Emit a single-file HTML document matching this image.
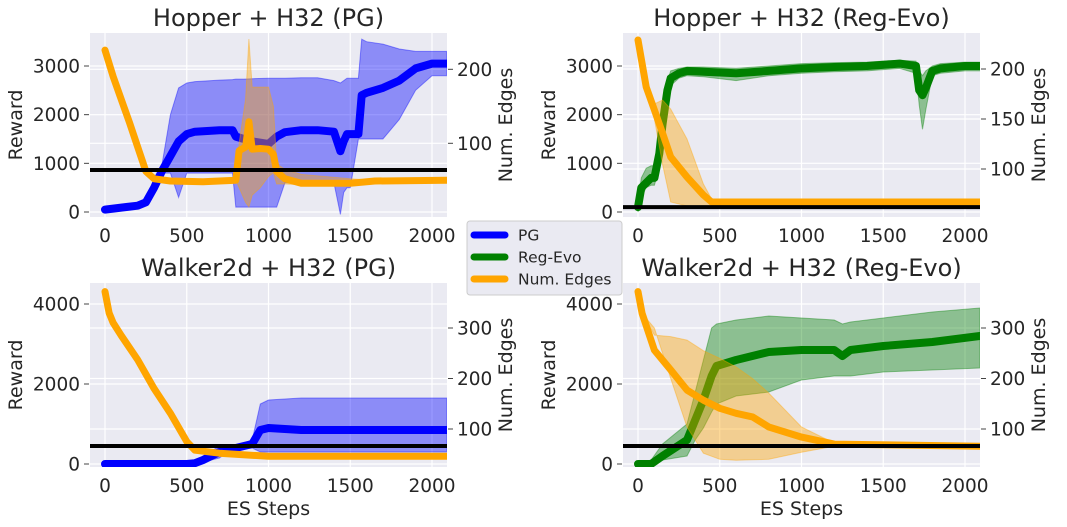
<!DOCTYPE html>
<html><head><meta charset="utf-8"><style>
body{margin:0;background:#fff;}
svg{display:block;font-family:"DejaVu Sans","Liberation Sans",sans-serif;}
</style></head><body>
<svg id="chart" width="1067" height="527" viewBox="0 0 1067 527" xmlns="http://www.w3.org/2000/svg"></svg>
<script>
// ---------- data ----------
const xTicks = [0, 500, 1000, 1500, 2000];
const panelTitles = ["Hopper + H32 (PG)", "Hopper + H32 (Reg-Evo)", "Walker2d + H32 (PG)", "Walker2d + H32 (Reg-Evo)"];
const rewardTicksHopper = [0, 1000, 2000, 3000];
const rewardTicksWalker = [0, 2000, 4000];
const edgeTicksP1 = [100, 200];
const edgeTicksP2 = [100, 150, 200];
const edgeTicksWalker = [100, 200, 300];
const baselines = [862, 100, 450, 450];

// Panel 1: Hopper PG
const p1RewX = [0,100,200,250,300,350,400,450,500,550,600,700,780,800,850,900,1000,1050,1100,1200,1300,1400,1440,1460,1480,1500,1550,1570,1600,1700,1800,1900,2000,2090];
const p1RewMean = [50,90,130,200,500,850,1150,1450,1600,1650,1660,1680,1680,1550,1500,1450,1400,1550,1640,1680,1680,1650,1250,1450,1600,1600,1600,2400,2450,2550,2700,2950,3050,3050];
const p1RewUp = [50,90,130,200,700,1000,2000,2550,2650,2680,2690,2710,2720,2730,2730,2740,2750,2750,2750,2760,2760,2700,2650,2700,2750,2750,2750,3550,3500,3450,3350,3300,3300,3300];
const p1RewLo = [50,90,130,200,400,800,800,300,800,800,800,800,800,100,100,100,100,100,600,600,600,600,-50,400,500,500,1500,1500,1500,1500,1900,2500,2800,2800];
const p1EdgX = [0,50,100,150,200,250,300,400,600,800,820,860,880,900,950,1000,1030,1050,1100,1200,1500,1650,2090];
const p1EdgMean = [226,190,159,128,95,62,52,49,48,50,90,95,129,92,93,92,85,62,52,46,46,49,50];
const p1EdgUp = [226,190,159,128,95,62,52,49,48,50,100,160,241,176,176,176,150,72,65,58,52,50,50];
const p1EdgLo = [226,190,159,128,95,62,52,49,48,50,40,20,14,30,40,55,60,45,45,44,44,48,50];

// Panel 2: Hopper Reg-Evo
const p2RewX = [0,20,50,80,100,130,150,180,200,250,300,400,600,800,1000,1200,1400,1600,1700,1720,1740,1760,1800,1850,2000,2090];
const p2RewMean = [100,500,600,700,700,1200,1800,2500,2750,2850,2900,2880,2850,2900,2950,2980,3000,3050,3000,2500,2400,2550,2900,2950,3000,3000];
const p2RewUp = [200,700,900,950,950,1500,2100,2700,2900,2950,2980,2980,2950,3000,3050,3070,3080,3120,3100,2900,2800,2900,3000,3050,3080,3080];
const p2RewLo = [0,300,500,550,550,900,1500,2200,2600,2750,2800,2780,2700,2800,2850,2880,2900,2950,2850,2200,1700,2100,2800,2850,2900,2900];
const p2EdgX = [0,50,100,150,200,300,400,450,2090];
const p2EdgMean = [229,182,159,136,112,92,74,67,67];
const p2EdgUp = [229,182,165,169,160,130,85,70,70];
const p2EdgLo = [229,182,150,105,67,63,63,63,63];

// Panel 3: Walker PG
const p3RewX = [0,500,550,600,700,750,800,900,950,1000,1200,1500,1800,2090];
const p3RewMean = [0,0,20,100,300,350,400,500,850,900,850,850,850,850];
const p3RewUp = [0,0,30,200,450,400,450,600,1500,1600,1650,1650,1650,1650];
const p3RewLo = [0,0,0,50,150,300,350,400,300,300,300,300,300,300];
const p3EdgX = [0,25,50,100,200,300,400,500,550,700,1000,2090];
const p3EdgMean = [372,330,310,285,237,180,131,75,58,52,46,46];
const p3EdgUp = [372,330,310,285,237,180,131,77,60,54,48,48];
const p3EdgLo = [372,330,310,285,237,180,131,73,56,50,44,44];

// Panel 4: Walker Reg-Evo
const p4RewX = [0,80,150,300,350,400,450,480,600,800,1000,1200,1250,1300,1500,1800,2090];
const p4RewMean = [0,0,200,600,1100,1600,2200,2450,2600,2800,2850,2850,2700,2850,2950,3050,3200];
const p4RewUp = [0,100,500,1000,1800,2600,3400,3500,3600,3700,3650,3600,3500,3550,3650,3800,3900];
const p4RewLo = [0,0,100,200,600,900,1300,1500,1700,1800,2100,2200,2200,2200,2300,2350,2400];
const p4EdgX = [0,25,100,200,300,400,500,600,700,800,1000,1200,2090];
const p4EdgMean = [372,329,256,217,177,157,141,131,124,104,84,70,66];
const p4EdgUp = [372,329,286,283,276,255,240,223,200,171,104,72,68];
const p4EdgLo = [372,329,300,200,104,52,40,38,39,40,54,66,64];

// ---------- layout ----------
const NS = "http://www.w3.org/2000/svg";
const svg = document.getElementById("chart");
function el(tag, attrs, parent) {
  const e = document.createElementNS(NS, tag);
  for (const k in attrs) e.setAttribute(k, attrs[k]);
  (parent || svg).appendChild(e);
  return e;
}
function lin(d0, r0, d1, r1) { return v => r0 + (v - d0) * (r1 - r0) / (d1 - d0); }

const panels = [
  {x0:90, x1:447, y0:33, y1:217, xs:lin(0,105,2000,432), rs:lin(0,212,3000,66), es:lin(100,143.3,200,69.3),
   rt:rewardTicksHopper, et:edgeTicksP1, color:"#0000ff",
   rx:p1RewX, rm:p1RewMean, ru:p1RewUp, rl:p1RewLo, ex:p1EdgX, em:p1EdgMean, eu:p1EdgUp, elo:p1EdgLo, xlabel:false},
  {x0:623, x1:980, y0:33, y1:217, xs:lin(0,638,2000,965), rs:lin(0,212,3000,66), es:lin(100,169,200,69),
   rt:rewardTicksHopper, et:edgeTicksP2, color:"#008000",
   rx:p2RewX, rm:p2RewMean, ru:p2RewUp, rl:p2RewLo, ex:p2EdgX, em:p2EdgMean, eu:p2EdgUp, elo:p2EdgLo, xlabel:false},
  {x0:90, x1:447, y0:283, y1:467, xs:lin(0,105,2000,432), rs:lin(0,464,4000,304), es:lin(100,429,300,328),
   rt:rewardTicksWalker, et:edgeTicksWalker, color:"#0000ff",
   rx:p3RewX, rm:p3RewMean, ru:p3RewUp, rl:p3RewLo, ex:p3EdgX, em:p3EdgMean, eu:p3EdgUp, elo:p3EdgLo, xlabel:true},
  {x0:623, x1:980, y0:283, y1:467, xs:lin(0,638,2000,965), rs:lin(0,464,4000,304), es:lin(100,429,300,328),
   rt:rewardTicksWalker, et:edgeTicksWalker, color:"#008000",
   rx:p4RewX, rm:p4RewMean, ru:p4RewUp, rl:p4RewLo, ex:p4EdgX, em:p4EdgMean, eu:p4EdgUp, elo:p4EdgLo, xlabel:true}
];

function linePath(xs, ys, fx, fy) {
  return xs.map((x, i) => (i ? "L" : "M") + fx(x).toFixed(1) + "," + fy(ys[i]).toFixed(1)).join("");
}
function bandPath(xs, up, lo, fx, fy) {
  let d = linePath(xs, up, fx, fy);
  for (let i = xs.length - 1; i >= 0; i--) d += "L" + fx(xs[i]).toFixed(1) + "," + fy(lo[i]).toFixed(1);
  return d + "Z";
}

const defs = el("defs", {});
panels.forEach((p, i) => {
  const g = el("g", {});
  
  
  const cp = el("clipPath", {id: "clip" + i}, defs);
  el("rect", {x:p.x0, y:p.y0, width:p.x1 - p.x0, height:p.y1 - p.y0}, cp);

  const bg = el("rect", {x:p.x0, y:p.y0, width:p.x1 - p.x0, height:p.y1 - p.y0, fill:"#eaeaf2"}, g);
  
  

  xTicks.forEach(t => {
    const l = el("line", {x1:p.xs(t), x2:p.xs(t), y1:p.y0, y2:p.y1, stroke:"#fff", "stroke-width":1.2}, g);
    
    
  });
  p.rt.forEach(t => {
    const l = el("line", {x1:p.x0, x2:p.x1, y1:p.rs(t), y2:p.rs(t), stroke:"#fff", "stroke-width":1.2}, g);
    
    
  });
  p.et.forEach(t => {
    const l = el("line", {x1:p.x0, x2:p.x1, y1:p.es(t), y2:p.es(t), stroke:"#fff", "stroke-width":1.2}, g);
    
    
  });

  const cg = el("g", {"clip-path":"url(#clip" + i + ")"}, g);
  const rb = el("path", {d:bandPath(p.rx, p.ru, p.rl, p.xs, p.rs), fill:p.color, "fill-opacity":0.4, stroke:p.color, "stroke-opacity":0.4}, cg);
  
  
  const rm = el("path", {d:linePath(p.rx, p.rm, p.xs, p.rs), fill:"none", stroke:p.color, "stroke-width":8, "stroke-linejoin":"round", "stroke-linecap":"round"}, cg);
  
  
  const eb = el("path", {d:bandPath(p.ex, p.eu, p.elo, p.xs, p.es), fill:"#ffa500", "fill-opacity":0.4, stroke:"#ffa500", "stroke-opacity":0.4}, cg);
  
  
  const em = el("path", {d:linePath(p.ex, p.em, p.xs, p.es), fill:"none", stroke:"#ffa500", "stroke-width":7, "stroke-linejoin":"round", "stroke-linecap":"round"}, cg);
  
  
  const bl = el("line", {x1:p.x0, x2:p.x1, y1:p.rs(baselines[i]), y2:p.rs(baselines[i]), stroke:"#000", "stroke-width":4}, cg);
  
  

  xTicks.forEach(t => {
    const tx = el("text", {x:p.xs(t), y:p.y1 + 25, "text-anchor":"middle", "font-size":18.5, fill:"#262626"}, g);
    tx.textContent = t;
    
    
  });
  p.rt.forEach(t => {
    el("line", {x1:p.x0 - 6, x2:p.x0 - 1, y1:p.rs(t), y2:p.rs(t), stroke:"#444", "stroke-width":1}, g);
    const tx = el("text", {x:p.x0 - 10, y:p.rs(t) + 6.5, "text-anchor":"end", "font-size":18.5, fill:"#262626"}, g);
    tx.textContent = t;
    
    
  });
  p.et.forEach(t => {
    el("line", {x1:p.x1 + 1, x2:p.x1 + 6, y1:p.es(t), y2:p.es(t), stroke:"#444", "stroke-width":1}, g);
    const tx = el("text", {x:p.x1 + 10, y:p.es(t) + 6.5, "text-anchor":"start", "font-size":18.5, fill:"#262626"}, g);
    tx.textContent = t;
    
    
  });
  const cx = (p.x0 + p.x1) / 2, cy = (p.y0 + p.y1) / 2;
  const ttl = el("text", {x:cx, y:p.y0 - 7, "text-anchor":"middle", "font-size":24, fill:"#262626"}, g);
  ttl.textContent = panelTitles[i];
  
  
  const yl = el("text", {x:0, y:0, transform:"translate(" + (p.x0 - 68) + "," + cy + ") rotate(-90)", "text-anchor":"middle", "font-size":19, fill:"#262626"}, g);
  yl.textContent = "Reward";
  
  
  const yr = el("text", {x:0, y:0, transform:"translate(" + (p.x1 + 65) + "," + cy + ") rotate(-90)", "text-anchor":"middle", "font-size":19, fill:"#262626"}, g);
  yr.textContent = "Num. Edges";
  
  
  if (p.xlabel) {
    const xl = el("text", {x:cx, y:515, "text-anchor":"middle", "font-size":19, fill:"#262626"}, g);
    xl.textContent = "ES Steps";
    
    
  }
});

const legendLabels = ["PG", "Reg-Evo", "Num. Edges"];
const legendColors = ["#0000ff", "#008000", "#ffa500"];
const lg = el("g", {});


el("rect", {x:467, y:221, width:155, height:74, rx:3, fill:"#eaeaf2", stroke:"#cccccc", "stroke-width":1}, lg);
legendLabels.forEach((lab, i) => {
  const y = 235 + i * 22;
  const ln = el("line", {x1:474, x2:505, y1:y, y2:y, stroke:legendColors[i], "stroke-width":7, "stroke-linecap":"round"}, lg);
  
  
  const t = el("text", {x:518, y:y + 5.5, "font-size":15.5, fill:"#262626"}, lg);
  t.textContent = lab;
  
  
});
</script>
</body></html>
